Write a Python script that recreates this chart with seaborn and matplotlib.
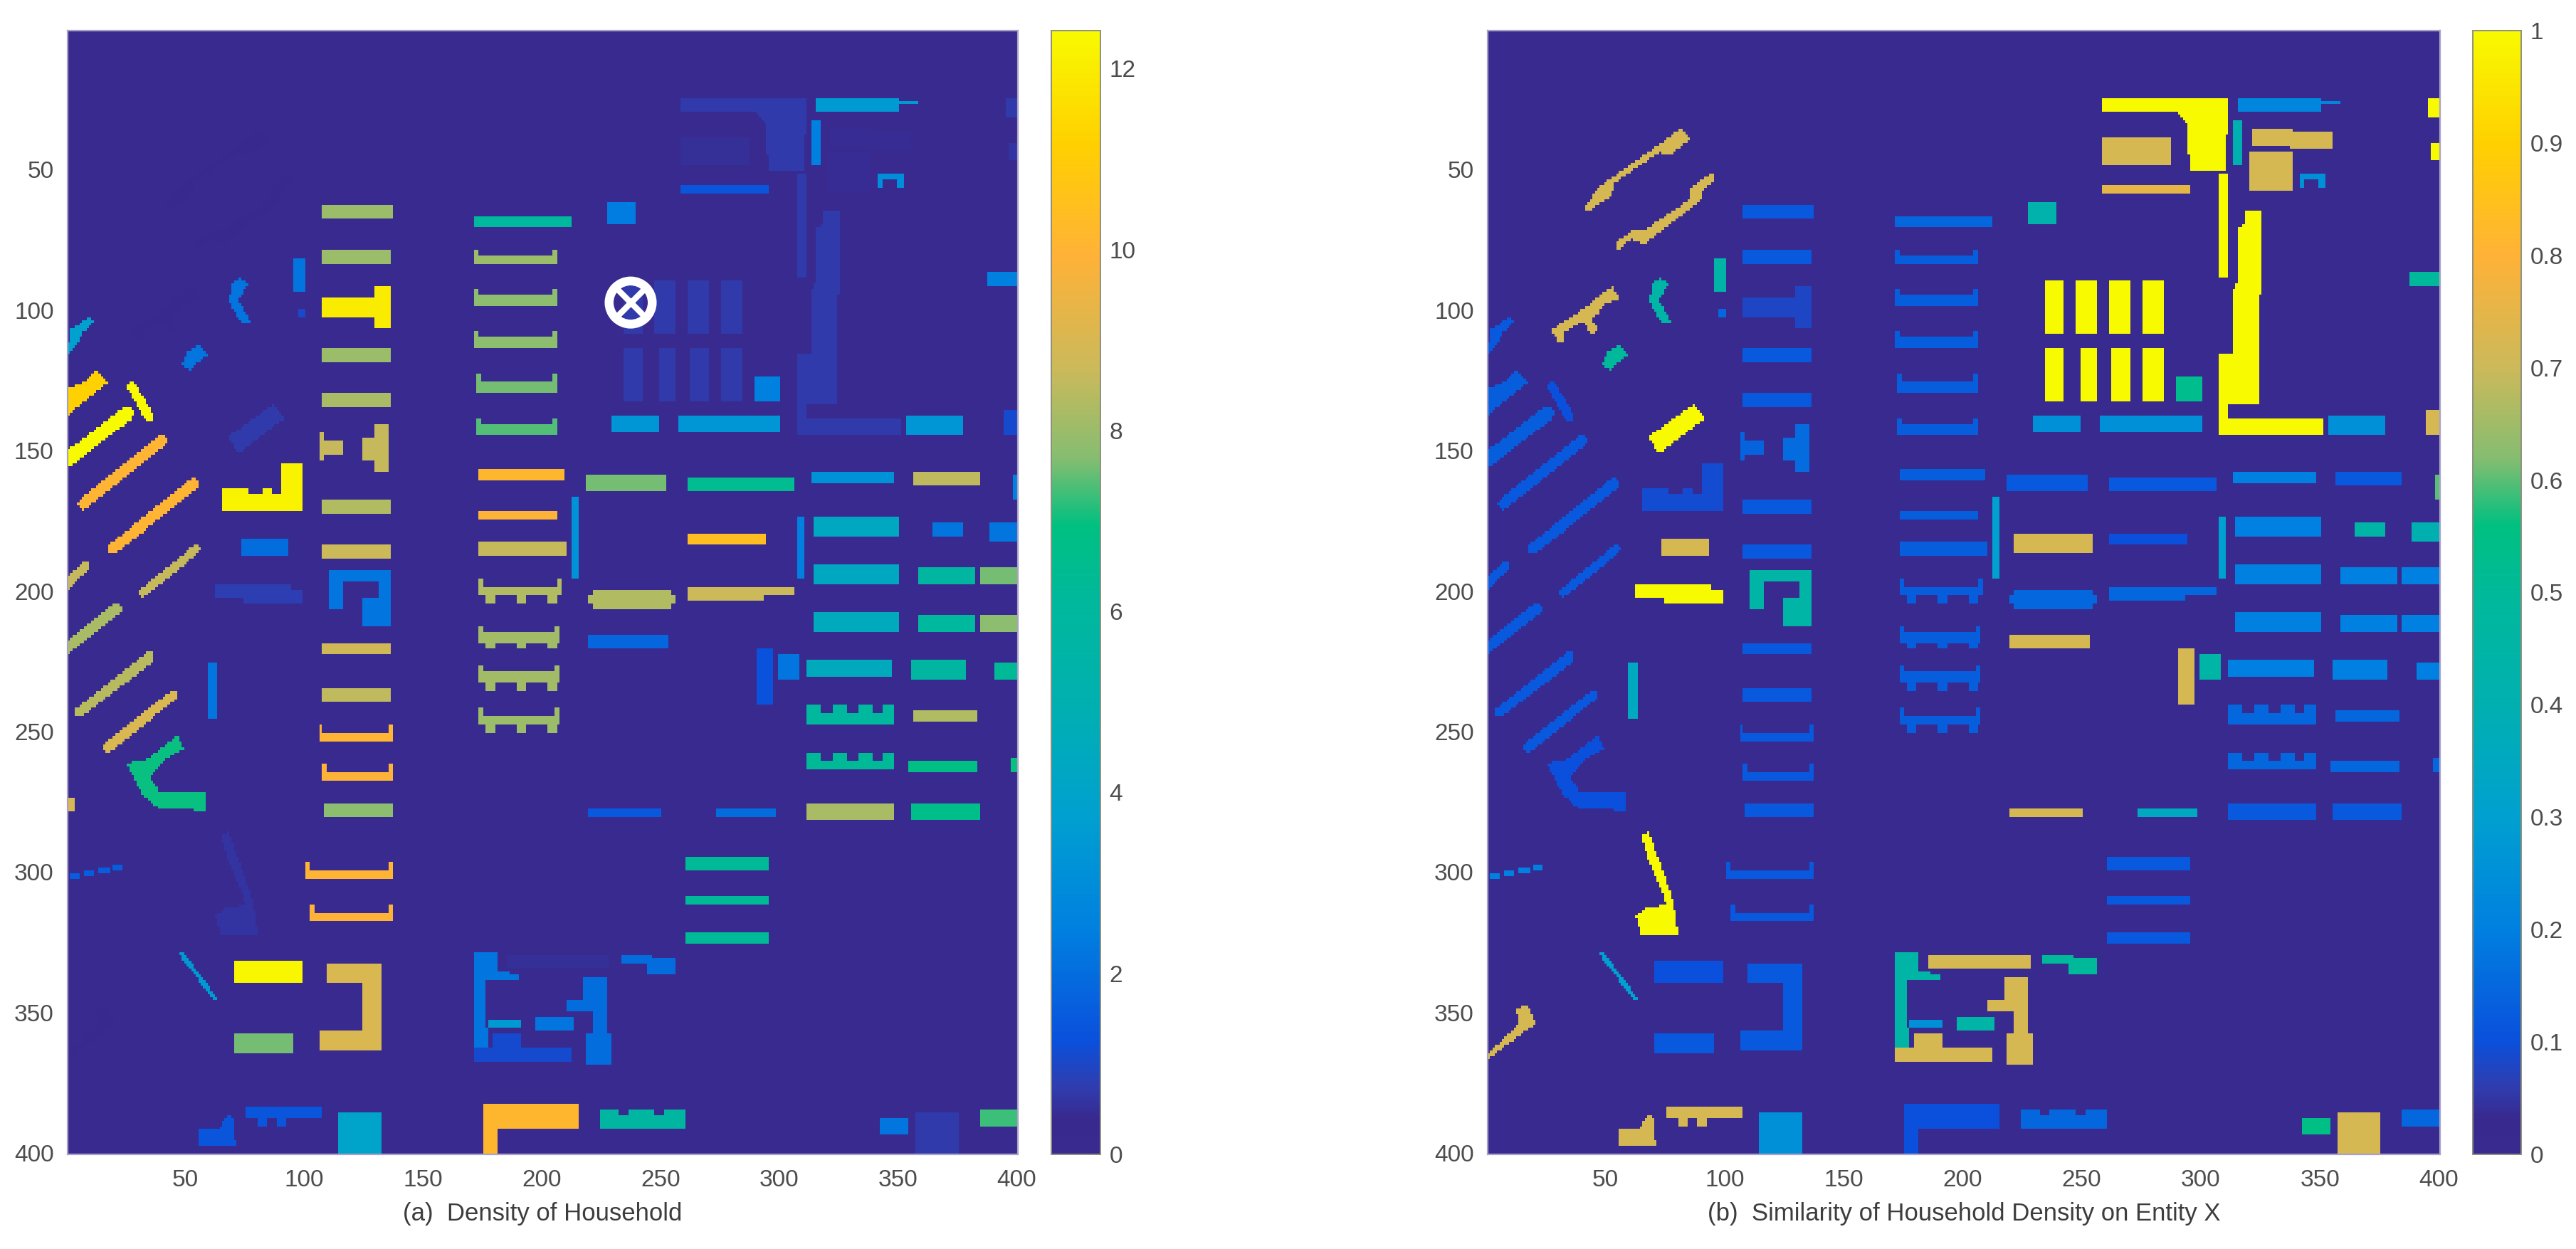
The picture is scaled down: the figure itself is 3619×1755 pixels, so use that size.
"""Household density and similarity maps, two gridded panels."""

import matplotlib

matplotlib.use("Agg")

import matplotlib.pyplot as plt
import numpy as np
import seaborn as sns
from matplotlib.colors import LinearSegmentedColormap
from matplotlib.path import Path

GRID_SIZE = 400
AXIS_TICKS = [50, 100, 150, 200, 250, 300, 350, 400]
DENSITY_TICKS = [0, 2, 4, 6, 8, 10, 12]
SIMILARITY_TICKS = [0, 0.1, 0.2, 0.3, 0.4, 0.5, 0.6, 0.7, 0.8, 0.9, 1]
DENSITY_MAX = 12.42
CAPTIONS = ["(a)  Density of Household", "(b)  Similarity of Household Density on Entity X"]
MARKER_POINT = (237.5, 97.3)

# every building: x0, x1, y0, y1, density, similarity
column_one = [
    (108, 137, 62.5, 67, 8.0, 0.12),
    (108, 136, 78.5, 83, 8.0, 0.12),
    (108, 130, 95.5, 102, 12.0, 0.08),
    (130, 136, 91.7, 106, 12.0, 0.08),
    (108, 136, 113.7, 118, 8.0, 0.12),
    (108, 136, 129.6, 134, 8.2, 0.12),
    (106.5, 108, 143.5, 153, 8.6, 0.14),
    (108, 116.5, 147, 151, 8.6, 0.14),
    (124.5, 135.5, 146, 153, 8.6, 0.16),
    (130, 135.5, 141, 157, 8.6, 0.16),
    (108, 136, 167.6, 172, 8.3, 0.12),
    (108, 136, 183.5, 188, 8.7, 0.12),
    (110.6, 136.7, 192.5, 196.3, 2.2, 0.45),
    (110.6, 116, 196.3, 206, 2.2, 0.45),
    (131.3, 136.7, 196.3, 212.3, 2.2, 0.45),
    (124.6, 136.7, 203, 212.3, 2.2, 0.45),
    (108, 136, 218.7, 222.3, 8.8, 0.12),
    (108, 136, 234.7, 239, 8.5, 0.12),
    (106.6, 137, 250.4, 253, 10.0, 0.12),
    (108, 137, 264.3, 267, 9.9, 0.12),
    (108.5, 137.8, 275.7, 280.3, 7.8, 0.12),
    (101, 137, 299.3, 302.3, 10.0, 0.12),
    (103, 137, 314.4, 317.5, 9.9, 0.12),
    (110, 132, 332.6, 339, 9.0, 0.12),
    (124.6, 132, 339, 363.4, 9.0, 0.12),
    (107, 132, 356.6, 363.4, 9.0, 0.12),
    (71, 99, 331.7, 339, 12.3, 0.1),
    (71, 95.6, 357.5, 364, 7.6, 0.12),
    (114.8, 132.3, 385.6, 400, 4.0, 0.25),
]

column_two = [
    (171.5, 212, 66.8, 70.6, 6.0, 0.15),
    (172, 206, 81, 83.2, 8.0, 0.13),
    (172, 206, 94.6, 98, 7.8, 0.13),
    (172, 206, 109.8, 113.2, 7.8, 0.13),
    (173, 206, 125.4, 129.2, 7.6, 0.13),
    (173, 206, 141, 144, 7.4, 0.13),
    (174, 209, 156.6, 160, 10.1, 0.13),
    (174, 206, 171.4, 174.4, 9.9, 0.13),
    (174, 210, 182.8, 187.4, 8.6, 0.13),
    (174, 208, 198.4, 201.8, 8.3, 0.13),
    (174, 207, 215, 218, 8.1, 0.13),
    (174, 207, 228.8, 232.6, 8.1, 0.13),
    (174, 207, 244.4, 247.8, 8.0, 0.13),
    (212.8, 215, 167, 195, 3.2, 0.3),
]

column_three = [
    (219, 252, 158.7, 164.2, 7.6, 0.12),
    (261.7, 306, 159.6, 164.2, 6.5, 0.12),
    (222, 254, 180, 186, 0.4, 0.72),
    (261.7, 294, 179.4, 183.2, 10.4, 0.1),
    (222, 254, 200, 206, 8.3, 0.15),
    (219.6, 256, 202, 204, 8.3, 0.15),
    (261.7, 306, 198.8, 201, 8.7, 0.15),
    (261.7, 293, 201, 203, 8.7, 0.15),
    (220, 253, 216, 220, 1.8, 0.72),
    (291, 297, 221, 240, 1.3, 0.72),
    (300, 308, 222.5, 231.3, 2.2, 0.45),
    (308, 310, 174, 195, 2.5, 0.3),
    (260.5, 295, 295, 299.2, 6.3, 0.12),
    (260.5, 295, 308.7, 311.7, 6.3, 0.12),
    (260.5, 295, 322, 325, 6.3, 0.12),
    (220, 250.5, 278, 280.4, 1.5, 0.72),
    (273.4, 298, 278, 280.4, 2.0, 0.35),
]

east_blocks = [
    (313.7, 348.8, 157.5, 161.3, 3.2, 0.2),
    (357, 384, 158, 162, 8.5, 0.12),
    (398.5, 400, 158.7, 167, 2.5, 0.6),
    (315, 350, 173.5, 180.3, 4.3, 0.2),
    (365, 377, 175.6, 180, 2.2, 0.45),
    (388.6, 400, 175.6, 182, 2.2, 0.4),
    (315, 350, 190.4, 197, 4.3, 0.2),
    (359, 382.5, 191.2, 197, 5.8, 0.2),
    (384.8, 400, 191.7, 197, 7.6, 0.2),
    (315, 350, 207.7, 214, 4.5, 0.2),
    (359, 382.5, 208.5, 214, 6.0, 0.2),
    (384.8, 400, 208.5, 214, 7.8, 0.2),
    (311.4, 347.6, 224.6, 230.5, 4.5, 0.2),
    (355.7, 378.6, 224.6, 231, 5.8, 0.2),
    (391, 400, 225.8, 231, 6.3, 0.2),
    (312, 348, 240.6, 247.4, 6.0, 0.15),
    (356.5, 383, 242.5, 246.4, 8.3, 0.15),
    (312, 348, 257.5, 263.9, 6.3, 0.15),
    (355, 383, 261, 264, 6.8, 0.15),
    (397.5, 400, 259.5, 264.8, 7.0, 0.15),
    (312, 348, 275.5, 281.3, 8.2, 0.12),
    (356, 384, 275.5, 281.3, 6.7, 0.12),
    # notches cut out of the crenellated rows
    (318, 322, 240.6, 243.6, 0, 0),
    (329, 333, 240.6, 243.6, 0, 0),
    (340, 343, 240.6, 243.6, 0, 0),
    (318, 322, 257.5, 260.5, 0, 0),
    (329, 333, 257.5, 260.5, 0, 0),
    (340, 343, 257.5, 260.5, 0, 0),
]

north_blocks = [
    (259, 287.5, 38.8, 48.3, 0.5, 0.72),
    (259, 295.5, 55.8, 58.2, 1.4, 0.75),
    (316, 350, 24.3, 29, 3.5, 0.22),
    (350, 358, 25.2, 26.2, 3.5, 0.22),
    (313.5, 317.7, 33, 48.3, 2.5, 0.4),
    (321.5, 338.3, 35.4, 41.2, 0.45, 0.72),
    (338, 355, 37, 42.7, 0.45, 0.72),
    (320.7, 338.3, 44, 57.3, 0.45, 0.72),
    (341.4, 352, 51.4, 53, 3.0, 0.25),
    (341.4, 343.5, 53, 56.3, 3.0, 0.25),
    (350, 352, 53, 56.3, 3.0, 0.25),
    (307.3, 311, 52, 88.3, 0.7, 1.0),
    (234.3, 242.3, 89.7, 108, 0.7, 1.0),
    (248, 256.5, 89.7, 108, 0.7, 1.0),
    (262, 270.7, 89.7, 108, 0.7, 1.0),
    (276, 284.5, 89.7, 108, 0.7, 1.0),
    (234.5, 242.3, 113.7, 132, 0.7, 1.0),
    (249.3, 256.5, 113.7, 132, 0.7, 1.0),
    (263, 270.7, 113.7, 132, 0.7, 1.0),
    (276, 284.5, 113.7, 132, 0.7, 1.0),
    (290, 300.5, 123.2, 132, 2.5, 0.53),
    (228, 239.7, 61.6, 69.4, 2.4, 0.42),
    (395.2, 400, 24.3, 31, 0.7, 1.0),
    (397, 400, 40.3, 46, 0.6, 1.0),
    (387.2, 400, 86.4, 91.7, 2.5, 0.5),
    (230, 249.3, 137.8, 143.6, 3.3, 0.25),
    (257.6, 300.5, 137.8, 143, 3.3, 0.25),
    (354, 377.6, 137.8, 144.3, 3.3, 0.25),
    (395, 400, 135.3, 144.3, 1.1, 0.72),
]

west_blocks = [
    (96, 100, 81.6, 93.8, 2.2, 0.45),
    (98, 100, 99.7, 102, 1.0, 0.15),
    (65.1, 99.2, 165.5, 171, 12.2, 0.09),
    (65.1, 76.5, 163.6, 165.5, 12.2, 0.09),
    (83, 86.5, 163.6, 165.5, 12.2, 0.09),
    (90.5, 99.2, 155, 171, 12.2, 0.09),
    (73.8, 93.2, 181.5, 187.9, 2.0, 0.72),
    (63, 94, 197.6, 202.6, 0.8, 1.0),
    (75, 99, 200, 204.3, 0.8, 1.0),
    (60, 63, 226, 245.6, 2.2, 0.35),
    (0, 3, 274, 278, 9.0, 0.0),
    (2, 5, 300.5, 302, 1.6, 0.2),
    (8, 11, 300, 301.5, 1.6, 0.2),
    (14, 18, 298.5, 300, 1.6, 0.2),
    (20, 23, 298, 299.5, 1.6, 0.2),
]

south_blocks = [
    (185.4, 228.4, 329.2, 334.1, 0.5, 0.72),
    (234, 246, 329.6, 332, 2.0, 0.5),
    (245, 256, 331, 336, 2.0, 0.5),
    (217.5, 227.5, 337.7, 347, 2.0, 0.72),
    (211, 222, 346, 349, 2.0, 0.72),
    (222, 227, 346, 368.6, 2.0, 0.72),
    (219, 229, 358, 368.6, 2.0, 0.72),
    (180, 191.6, 357.9, 362.3, 1.1, 0.72),
    (172, 212, 362.3, 367.3, 1.1, 0.72),
    (177.4, 191.7, 352.5, 355.6, 3.5, 0.25),
    (198, 213, 351.6, 356.5, 2.2, 0.45),
    (76, 107.7, 383.6, 387, 1.4, 0.72),
    (81, 84, 387, 390, 1.4, 0.72),
    (89, 92, 387, 390, 1.4, 0.72),
    (175.4, 215.2, 382.5, 391, 10.1, 0.1),
    (175.4, 181.7, 391, 400, 10.1, 0.1),
    (224.7, 260.5, 386.5, 391.5, 5.8, 0.15),
    (224.7, 232, 384.3, 386.5, 5.8, 0.15),
    (237, 247, 384.3, 386.5, 5.8, 0.15),
    (252, 260.5, 384.3, 386.5, 5.8, 0.15),
    (343, 354.5, 387.7, 393.7, 2.2, 0.55),
    (358, 375, 385.6, 400, 0.7, 0.72),
    (385, 400, 385, 390, 7.3, 0.15),
]

# slanted bars: x0, y0, x1, y1, width, density, similarity
slanted_bars = [
    (27.6, 127.5, 35, 138, 3.8, 12.4, 0.1),
    (25.6, 136.8, 1, 152.8, 5.3, 12.4, 0.13),
    (40.3, 146.5, 7, 168.9, 4.2, 10.0, 0.12),
    (53.7, 161.7, 19.6, 184.9, 4.2, 10.0, 0.12),
    (54.4, 185.3, 32.3, 200.5, 3.3, 8.6, 0.12),
    (8.2, 190.8, 0, 197.6, 3.5, 8.6, 0.12),
    (21, 206.4, 0, 220.4, 4.2, 8.2, 0.12),
    (35, 223.7, 5.6, 243, 4.0, 8.4, 0.12),
    (45, 237, 17.6, 255.4, 3.8, 9.0, 0.12),
    (48.4, 329, 62.4, 345, 1.8, 3.5, 0.3),
]

# irregular footprints: vertices, density, similarity
footprints = [
    ([(87.2, 133.4), (91.8, 138.5), (72.5, 151), (67.8, 145.2)], 0.7, 1.0),
    ([(1, 128), (9, 125), (13, 121), (17, 126), (1, 137)], 11.2, 0.13),
    ([(47, 251), (49, 256), (40.3, 260.8), (35, 266.7), (39.7, 271.8), (58.4, 271.8),
      (58.4, 278.1), (39, 277.7), (32.3, 272.6), (25, 261.3), (33.7, 260), (43, 254)], 7.0, 0.1),
    ([(82, 35), (85.3, 39.3), (76.6, 45.1), (72.6, 43.7), (53.9, 54.8), (52.5, 59.2),
      (42.5, 65), (41.2, 63), (48.5, 55.3), (71.3, 41.7)], 0.35, 0.72),
    ([(94.7, 51), (96, 54.3), (90.7, 57.3), (90.7, 60.2), (66, 76.7), (60.6, 74.7),
      (55.2, 79), (53.9, 76.2), (61.2, 71.8), (66, 71.8), (86, 60.2), (86, 56.3)], 0.35, 0.72),
    ([(53.2, 91.7), (55.9, 96.5), (49.9, 97.5), (47.2, 100.9), (44.5, 103.3), (47.2, 107.7),
      (43.9, 108.2), (40.5, 103.8), (32.5, 108.2), (33.1, 110.6), (30.5, 112), (27.1, 107.2),
      (31.1, 104.8), (41.8, 99), (48.5, 94.1)], 0.35, 0.72),
    ([(73, 88.7), (76.5, 90.4), (72.5, 96.3), (77.8, 104.8), (73.8, 104.8), (68.4, 96.7),
      (69.8, 90.4)], 2.2, 0.45),
    ([(11.6, 104), (9.6, 102.2), (1.5, 107.3), (0.5, 116), (5, 112), (7, 108)], 3.8, 0.12),
    ([(56.4, 112.3), (59, 116), (52, 121), (48.5, 119.5), (51, 115)], 2.2, 0.5),
    ([(65, 286.6), (68.4, 285.7), (71.3, 292.9), (78.4, 310), (80.4, 322), (65, 322),
      (62.7, 315.3), (67, 313), (75.6, 311.3), (67, 292.9)], 0.6, 1.0),
    ([(16.8, 346.7), (21, 353.8), (1, 366.4), (0.5, 364.6), (14, 353.8), (12.5, 348.9)], 0.25, 0.72),
    ([(69.8, 386.5), (71.3, 397.6), (64, 397), (55.5, 397.8), (55.5, 391.5), (64, 391.5),
      (68, 386.5)], 1.4, 0.72),
    ([(171.6, 328.3), (181.7, 328.3), (181.7, 335), (190, 336.8), (190, 338.6), (176, 338.6),
      (177.4, 362.8), (171.6, 362.8)], 2.2, 0.45),
    ([(258.8, 24.3), (311.5, 24.3), (310.5, 50.3), (295.5, 50.3), (294, 33), (290, 29.1),
      (258.8, 29.1)], 0.7, 1.0),
    ([(318.1, 64.5), (325.8, 64.5), (325.8, 94.1), (324.2, 94.1), (324.2, 133.4), (311.1, 133.4),
      (311.1, 138.7), (351.3, 138.7), (351.3, 144), (307.3, 144), (307.3, 115.5), (313.5, 115.5),
      (313.5, 94.1), (315.4, 89.7), (315.4, 70.3), (318.1, 69.9)], 0.7, 1.0),
]

comb_teeth_x = [177, 190, 203]
palette_stops = [0.0, 0.03, 0.06, 0.1, 0.2, 0.3, 0.4, 0.5, 0.56, 0.62, 0.7, 0.8, 0.9, 1.0]
palette_colors = ["#382a8e", "#38298e", "#2f3db0", "#0a50dc", "#0080e0", "#00a0d0", "#00b0b0",
                  "#00b99a", "#00c080", "#86bd70", "#ccb95a", "#ffb237", "#ffd000", "#f8fa00"]


xs = np.arange(1, GRID_SIZE + 1)
XX, YY = np.meshgrid(xs, xs)


def paint_rects(density, similarity, rects):
    for x0, x1, y0, y1, dens, sim in rects:
        mask = (XX >= x0) & (XX <= x1) & (YY >= y0) & (YY <= y1)
        density[mask] = dens
        similarity[mask] = sim


def paint_bars(density, similarity):
    for x0, y0, x1, y1, width, dens, sim in slanted_bars:
        dx, dy = x1 - x0, y1 - y0
        t = np.clip(((XX - x0) * dx + (YY - y0) * dy) / (dx * dx + dy * dy), 0, 1)
        mask = np.hypot(XX - x0 - t * dx, YY - y0 - t * dy) <= width / 2
        density[mask] = dens
        similarity[mask] = sim


def paint_footprints(density, similarity):
    points = np.column_stack([XX.ravel(), YY.ravel()])
    for verts, dens, sim in footprints:
        mask = Path(verts).contains_points(points).reshape(XX.shape)
        density[mask] = dens
        similarity[mask] = sim


def paint_combs(density, similarity):
    # teeth hang under the long rows, short ticks stand on their ends
    for x0, x1, y0, y1, dens, sim in column_two[9:13]:
        for tooth in comb_teeth_x:
            mask = (XX >= tooth) & (XX <= tooth + 3) & (YY >= y1) & (YY <= y1 + 2.5)
            density[mask] = dens
            similarity[mask] = sim
    for x0, x1, y0, y1, dens, sim in column_two[1:6] + column_two[9:13] + column_one[18:20] + column_one[21:23]:
        for end in (x0, x1 - 1):
            mask = (XX >= end) & (XX <= end + 1) & (YY >= y0 - 2.5) & (YY <= y0)
            density[mask] = dens
            similarity[mask] = sim


def draw_panel(fig, matrix, box, cbar_box, cmap, vmax, cbar_ticks, cbar_labels, caption):
    ax = fig.add_axes(box)
    cax = fig.add_axes(cbar_box)
    sns.heatmap(matrix, ax=ax, cbar_ax=cax, cmap=cmap, vmin=0, vmax=vmax,
                xticklabels=False, yticklabels=False, rasterized=True)
    for side in ["top", "bottom", "left", "right"]:
        ax.spines[side].set_visible(True)
        ax.spines[side].set_color("#a9a2c8")
        ax.spines[side].set_linewidth(1.6)
    ticks = [t - 0.5 for t in AXIS_TICKS]
    ax.set_xticks(ticks, AXIS_TICKS, rotation=0)
    ax.set_yticks(ticks, AXIS_TICKS, rotation=0)
    ax.tick_params(axis="both", direction="in", length=6, width=1, color="#2a2460",
                   labelsize=24, labelcolor="#4d4d4d", bottom=True, left=True)
    ax.tick_params(axis="x", pad=15)
    ax.tick_params(axis="y", pad=14)
    ax.set_xlabel(caption, fontsize=25, color="#3d3d3d", labelpad=11)

    cax.set_yticks(cbar_ticks, cbar_labels)
    cax.tick_params(axis="y", direction="in", length=13, width=1.2, color="#555555",
                    labelsize=24, labelcolor="#4d4d4d", pad=9, right=True)
    for spine in cax.spines.values():
        spine.set_visible(True)
        spine.set_color("#8f8f80")
        spine.set_linewidth(1.2)
    return ax


def main():
    sns.set_theme(style="white")
    plt.rcParams["font.family"] = ["Liberation Sans", "DejaVu Sans"]

    density = np.zeros((GRID_SIZE, GRID_SIZE))
    similarity = np.zeros((GRID_SIZE, GRID_SIZE))
    for rects in [column_one, column_two, column_three, east_blocks, north_blocks, west_blocks, south_blocks]:
        paint_rects(density, similarity, rects)
    paint_bars(density, similarity)
    paint_footprints(density, similarity)
    paint_combs(density, similarity)

    parula = LinearSegmentedColormap.from_list("household", list(zip(palette_stops, palette_colors)), N=512)

    width, height = 3619, 1755
    fig = plt.figure(figsize=(width / 100, height / 100), dpi=100, facecolor="white")

    def box(x0, x1, y0, y1):
        return [x0 / width, 1 - y1 / height, (x1 - x0) / width, (y1 - y0) / height]

    left = draw_panel(fig, density, box(95, 1430, 43, 1622), box(1477, 1546, 43, 1622), parula,
                      DENSITY_MAX, DENSITY_TICKS, [str(t) for t in DENSITY_TICKS], CAPTIONS[0])
    draw_panel(fig, similarity, box(2090, 3428, 43, 1622), box(3474, 3542, 43, 1622), parula,
               1, SIMILARITY_TICKS, [f"{t:g}" for t in SIMILARITY_TICKS], CAPTIONS[1])

    mx, my = MARKER_POINT
    left.scatter([mx - 0.5], [my - 0.5], s=1900, facecolors="none", edgecolors="white", linewidths=9, zorder=5)
    left.scatter([mx - 0.5], [my - 0.5], s=1100, marker="x", color="white", linewidths=6, zorder=5)

    fig.savefig("out.png", dpi=100, facecolor="white")
    plt.close(fig)


if __name__ == "__main__":
    main()
